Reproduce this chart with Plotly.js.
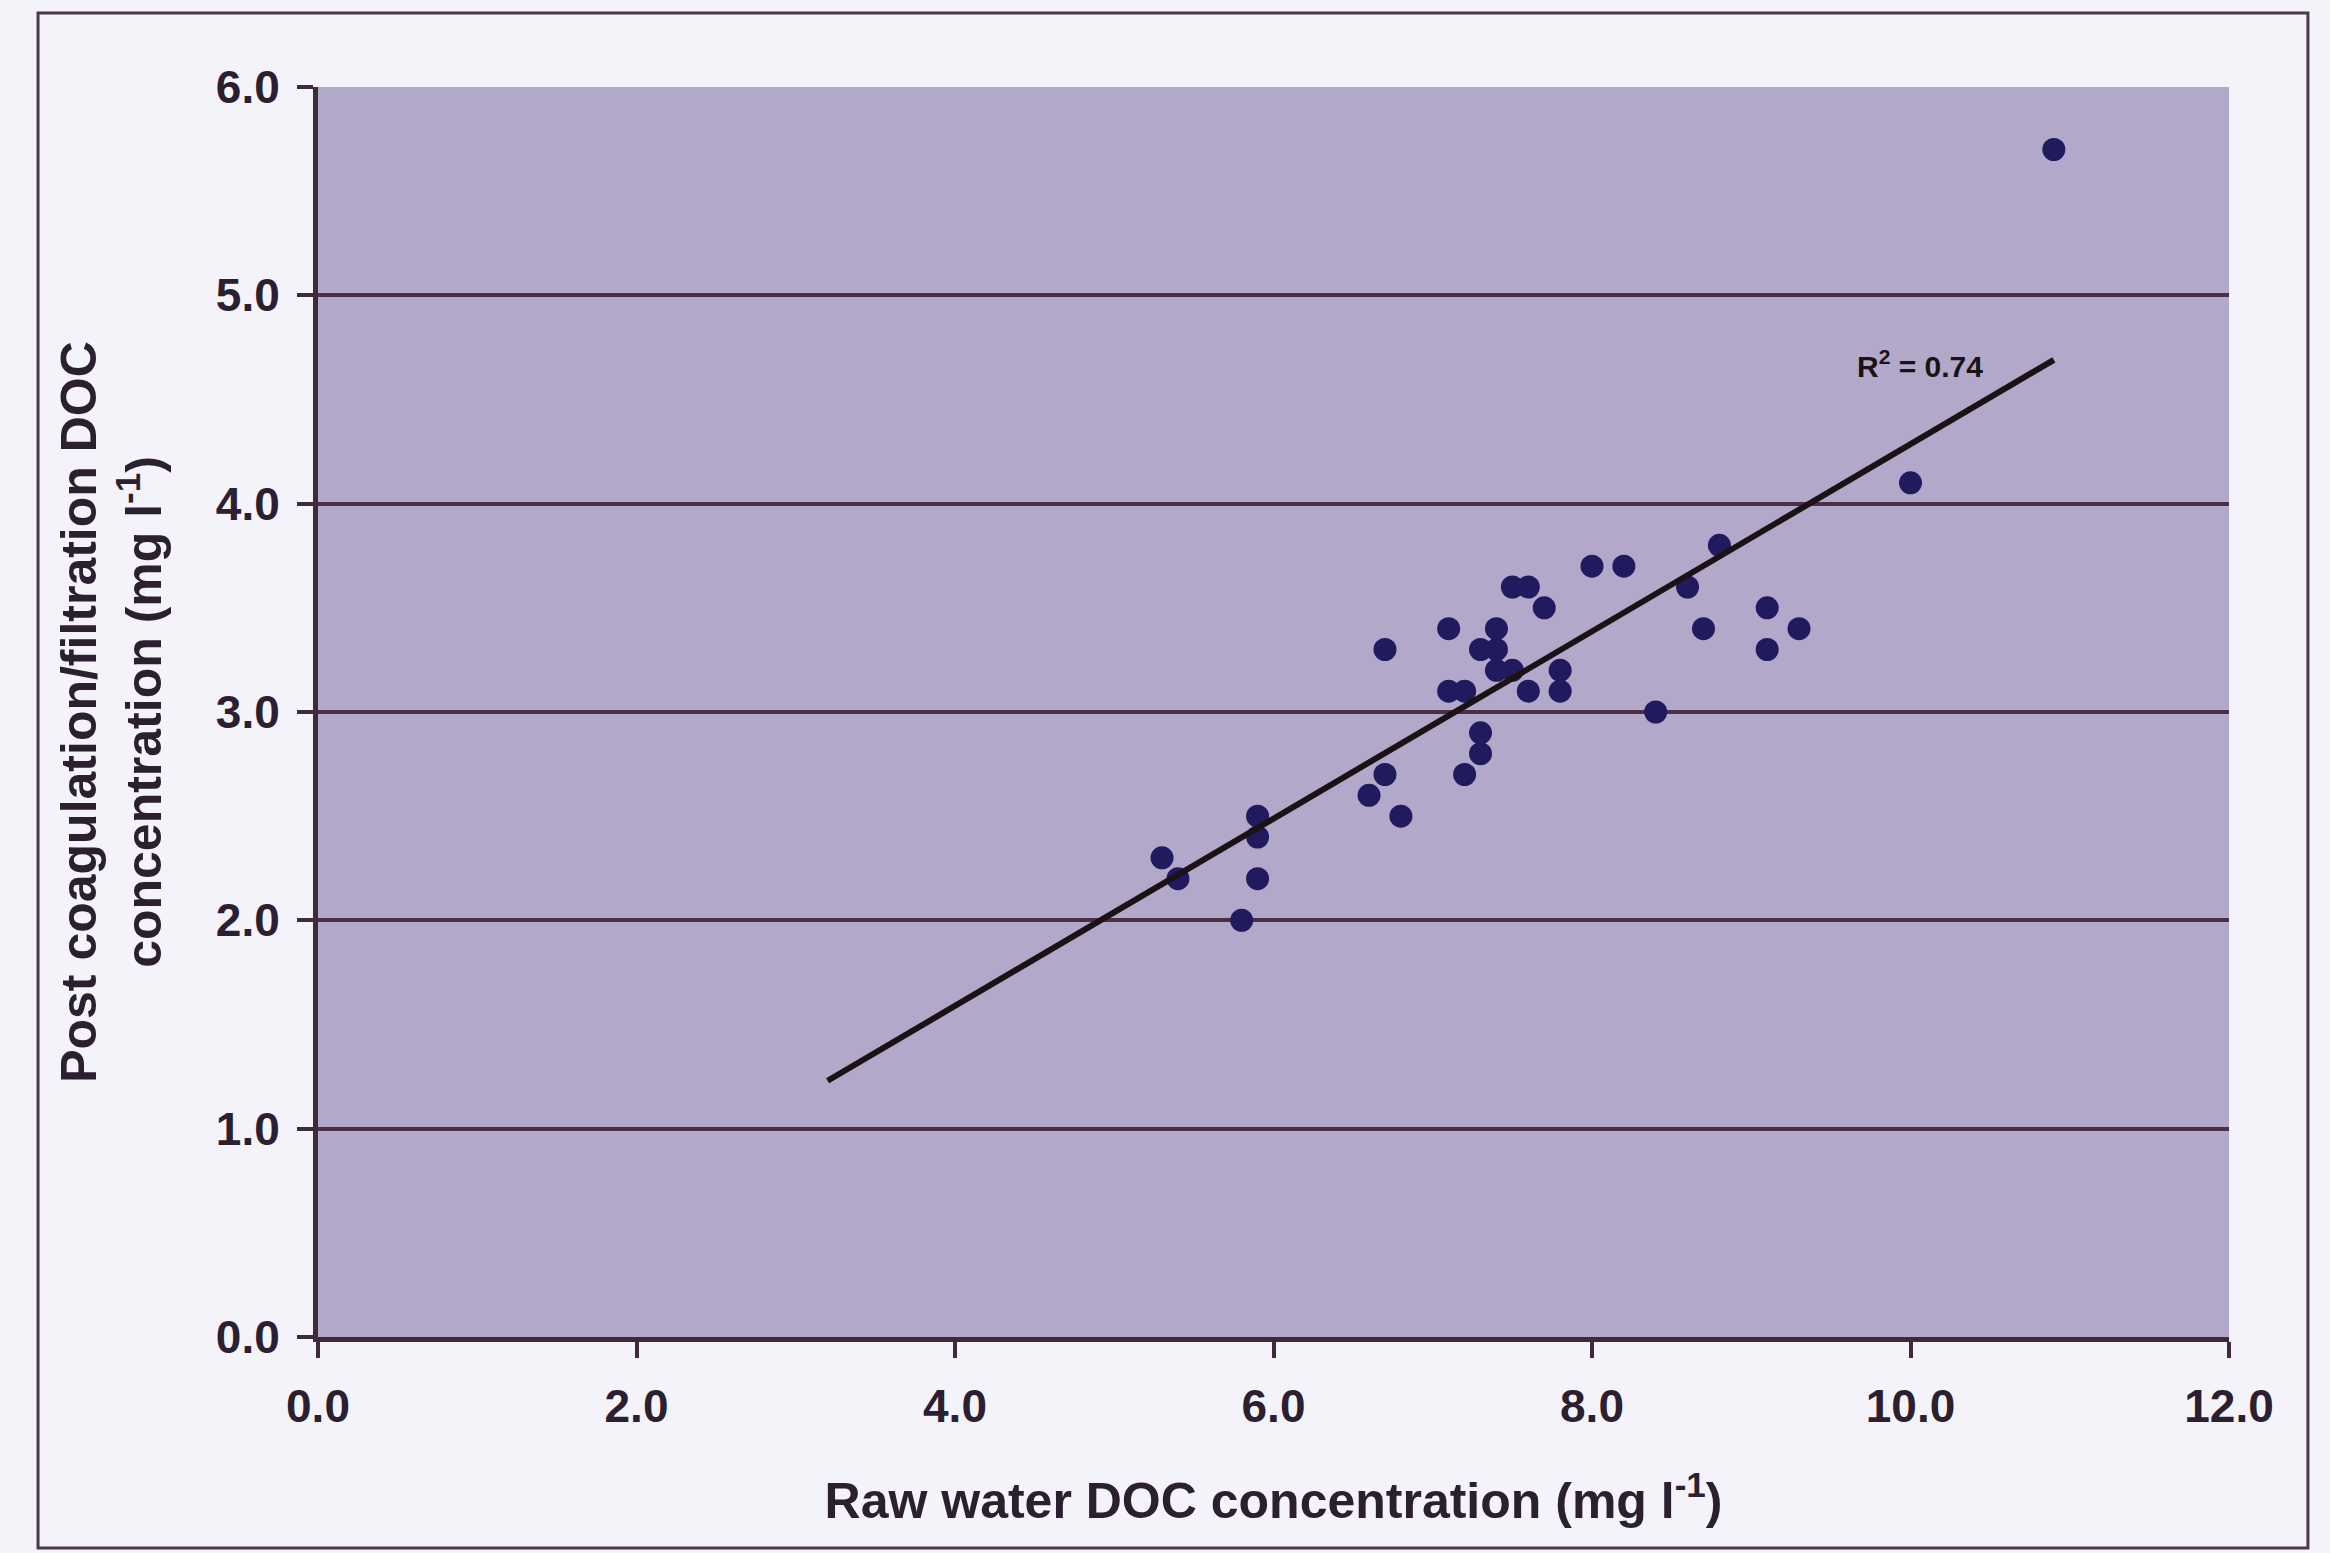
<!DOCTYPE html>
<html><head><meta charset="utf-8">
<script src="https://cdn.plot.ly/plotly-3.0.1.min.js"></script>
<style>html,body{margin:0;padding:0;background:#f5f3fa;}</style>
</head><body><div id="chart" style="width:2330px;height:1553px;"></div>
<script>
// Raw water DOC (x) and post coagulation/filtration DOC (y), mg/l
const rawDOC  = [10.9, 10.0, 8.8, 8.6, 8.0, 8.2, 7.5, 7.6, 7.7, 8.7, 9.1, 9.3, 9.1, 7.1, 6.7, 7.4, 7.3, 7.4, 7.5, 7.4, 7.8, 7.8, 7.6, 7.1, 7.2, 8.4, 7.3, 7.3, 7.2, 6.7, 6.6, 6.8, 5.9, 5.9, 5.9, 5.3, 5.4, 5.8];
const postDOC = [5.7, 4.1, 3.8, 3.6, 3.7, 3.7, 3.6, 3.6, 3.5, 3.4, 3.5, 3.4, 3.3, 3.4, 3.3, 3.4, 3.3, 3.3, 3.2, 3.2, 3.2, 3.1, 3.1, 3.1, 3.1, 3.0, 2.9, 2.8, 2.7, 2.7, 2.6, 2.5, 2.5, 2.4, 2.2, 2.3, 2.2, 2.0];
// Linear trendline end points as drawn in the figure
const trendRaw  = [3.2, 10.9];
const trendPost = [1.23, 4.69];
const r2Text = 'R<sup>2</sup> = 0.74';
const r2Pos = [10.06, 4.67];
const xTickVals = [0, 2, 4, 6, 8, 10, 12];
const xTickText = ['0.0', '2.0', '4.0', '6.0', '8.0', '10.0', '12.0'];
const yTickVals = [0, 1, 2, 3, 4, 5, 6];
const yTickText = ['0.0', '1.0', '2.0', '3.0', '4.0', '5.0', '6.0'];
const xTitle = 'Raw water DOC concentration (mg l<sup>-1</sup>)';
const yTitle = 'Post coagulation/filtration DOC<br>concentration (mg l<sup>-1</sup>)';

const FONT = '"Liberation Sans", Arial, sans-serif';
const INK = '#2b2030';
const AXC = '#3d2b3c';

const traces = [
  {
    type: 'scatter', mode: 'markers', x: rawDOC, y: postDOC,
    marker: {symbol: 'circle', size: 23, color: '#221a5e', line: {width: 0}},
    showlegend: false, hoverinfo: 'x+y'
  },
  {
    type: 'scatter', mode: 'lines', x: trendRaw, y: trendPost,
    line: {color: '#1c1216', width: 6},
    showlegend: false, hoverinfo: 'skip'
  }
];

const layout = {
  width: 2330, height: 1553,
  paper_bgcolor: '#f5f3fa',
  plot_bgcolor: '#b1a8ca',
  margin: {l: 318, r: 101, t: 87, b: 216},
  font: {family: FONT, color: INK},
  showlegend: false,
  xaxis: {
    range: [0, 12], tickvals: xTickVals, ticktext: xTickText,
    ticks: 'outside', ticklen: 16, tickwidth: 4, tickcolor: AXC,
    ticklabelstandoff: 9,
    showline: true, linecolor: AXC, linewidth: 5, mirror: false,
    showgrid: false, zeroline: false,
    tickfont: {family: FONT, size: 46, color: INK, weight: 'bold'},
    title: {text: xTitle, font: {family: FONT, size: 50, color: INK, weight: 'bold'}, standoff: 53},
    automargin: false
  },
  yaxis: {
    range: [0, 6], tickvals: yTickVals, ticktext: yTickText,
    ticks: 'outside', ticklen: 16, tickwidth: 4, tickcolor: AXC,
    ticklabelstandoff: 8,
    showline: true, linecolor: AXC, linewidth: 5,
    showgrid: true, gridcolor: '#4a3045', gridwidth: 4, zeroline: false,
    tickfont: {family: FONT, size: 46, color: INK, weight: 'bold'},
    title: {text: yTitle, font: {family: FONT, size: 50, color: INK, weight: 'bold'}, standoff: 40},
    automargin: false
  },
  annotations: [{
    x: r2Pos[0], y: r2Pos[1], xref: 'x', yref: 'y', text: r2Text, showarrow: false,
    font: {family: FONT, size: 30, color: '#1c1216', weight: 'bold'}
  }],
  shapes: [{
    type: 'rect', xref: 'paper', yref: 'paper',
    x0: -0.1465, x1: 1.0413, y0: -0.1688, y1: 1.0592,
    line: {color: '#4a3a4a', width: 3}, fillcolor: 'rgba(0,0,0,0)', layer: 'below'
  }]
};

Plotly.newPlot('chart', traces, layout, {displayModeBar: false, staticPlot: true});
</script>
</body></html>
